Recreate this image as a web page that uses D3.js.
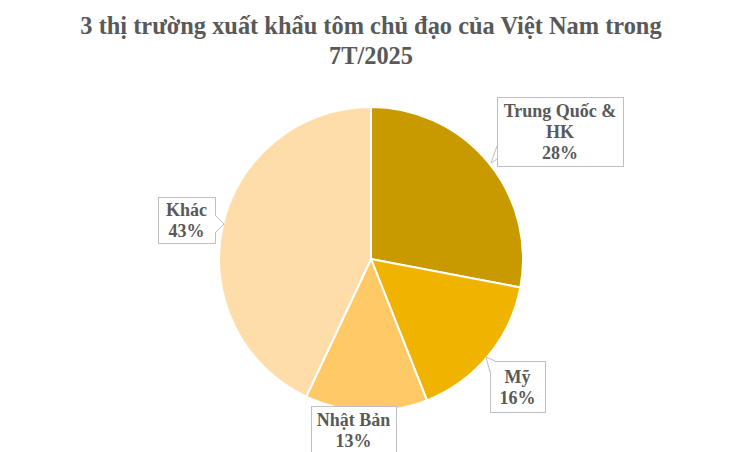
<!DOCTYPE html>
<html><head><meta charset="utf-8">
<script src="https://cdn.jsdelivr.net/npm/d3@7"></script>
<style>body{margin:0;background:#fff}svg{display:block}</style>
</head><body>
<svg id="c" width="744" height="452"></svg>
<script>
const categories = ["Trung Quốc & HK", "Mỹ", "Nhật Bản", "Khác"];
const values = [28, 16, 13, 43];
const labelLines = [["Trung Quốc &", "HK", "28%"], ["Mỹ", "16%"], ["Nhật Bản", "13%"], ["Khác", "43%"]];
const colors = ["#C99A00", "#F0B400", "#FFC966", "#FFDDA8"];
const titleLines = ["3 thị trường xuất khẩu tôm chủ đạo của Việt Nam trong", "7T/2025"];

const svg = d3.select("#c");
const cx = 371, cy = 259, R = 152;
const font = "'Liberation Serif','Times New Roman',serif";
const textColor = "#595959";

svg.append("g").selectAll("text").data(titleLines).join("text")
  .attr("x", 371).attr("y", (d, i) => 34 + i * 30)
  .attr("text-anchor", "middle")
  .attr("font-family", font).attr("font-weight", "bold").attr("font-size", 24.4)
  .attr("fill", textColor).text(d => d);

const pie = d3.pie().sort(null).value(d => d)(values);
const arc = d3.arc().innerRadius(0).outerRadius(R);
const g = svg.append("g").attr("transform", `translate(${cx},${cy})`);
g.selectAll("path").data(pie).join("path")
  .attr("d", arc).attr("fill", (d, i) => colors[i])
  .attr("stroke", "#fff").attr("stroke-width", 2);

// label box layout: [x0, y0, x1, y1, pointer]
const boxes = [
  {x0: 497, y0: 97, x1: 623, y1: 166, ptr: [[497, 146], [491, 163], [497, 159]]},
  {x0: 490, y0: 361, x1: 545, y1: 412, ptr: [[490, 372], [486, 357], [495, 361]]},
  {x0: 311, y0: 406, x1: 396, y1: 462, ptr: null},
  {x0: 158, y0: 197, x1: 215, y1: 243, ptr: [[215, 215], [224, 224], [215, 233]]}
];

const lg = svg.append("g");
boxes.forEach((b, i) => {
  lg.append("rect").attr("x", b.x0 + 0.5).attr("y", b.y0 + 0.5)
    .attr("width", b.x1 - b.x0).attr("height", b.y1 - b.y0)
    .attr("fill", "#fff").attr("stroke", "#BFBFBF").attr("stroke-width", 1);
  if (b.ptr) {
    lg.append("path").attr("d", d3.line()(b.ptr) + "Z")
      .attr("fill", "#fff").attr("stroke", "none");
    lg.append("path").attr("d", d3.line()(b.ptr))
      .attr("fill", "none").attr("stroke", "#BFBFBF").attr("stroke-width", 1);
  }
  const lines = labelLines[i];
  const cxText = (b.x0 + b.x1) / 2;
  const startY = (i === 2) ? 426 : (b.y0 + b.y1) / 2 - (lines.length - 1) * 10.5 + 6.5;
  lg.selectAll(null).data(lines).join("text")
    .attr("x", cxText).attr("y", (d, j) => startY + j * 21)
    .attr("text-anchor", "middle")
    .attr("font-family", font).attr("font-weight", "bold").attr("font-size", 18)
    .attr("fill", textColor).text(d => d);
});
</script>
</body></html>
